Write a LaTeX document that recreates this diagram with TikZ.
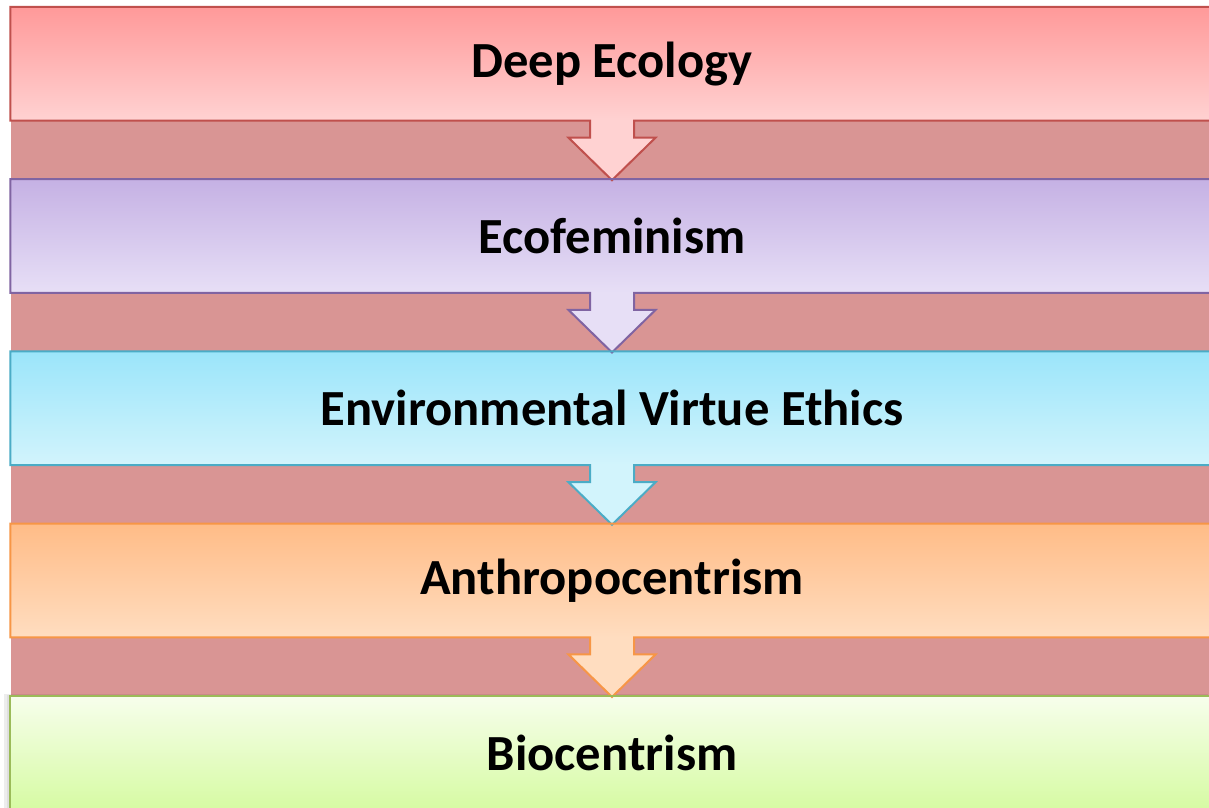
\documentclass[tikz,border=0pt]{standalone}
\usepackage{fontspec}
\setmainfont{Carlito}
\usetikzlibrary{calc}

\definecolor{band}{RGB}{217,149,148}
\definecolor{redtop}{RGB}{255,153,153}
\definecolor{redbot}{RGB}{255,210,210}
\definecolor{redline}{RGB}{192,80,77}
\definecolor{purtop}{RGB}{197,177,228}
\definecolor{purbot}{RGB}{231,223,246}
\definecolor{purline}{RGB}{128,100,162}
\definecolor{cyantop}{RGB}{155,229,250}
\definecolor{cyanbot}{RGB}{210,244,252}
\definecolor{cyanline}{RGB}{75,172,198}
\definecolor{orgtop}{RGB}{255,188,135}
\definecolor{orgbot}{RGB}{255,221,192}
\definecolor{orgline}{RGB}{247,150,70}
\definecolor{grntop}{RGB}{247,254,236}
\definecolor{grnbot}{RGB}{214,251,163}
\definecolor{grnline}{RGB}{155,187,89}

\pgfdeclarelayer{back}
\pgfdeclarelayer{shade}
\pgfdeclarelayer{arrowfill}
\pgfdeclarelayer{front}
\pgfsetlayers{back,shade,arrowfill,main,front}

\tikzset{
  stage/.style={rectangle, minimum width=1203pt, minimum height=113.5pt,
    inner sep=0pt, font=\fontsize{50.6}{60}\selectfont\bfseries, text=black},
  % box outline merged with the down arrow below it
  stageshape/.style={insert path={
    (#1.north west) -- (#1.north east) -- (#1.south east)
    -- ($(#1.south)+(22,0)$) -- ($(#1.south)+(22,17)$)
    -- ($(#1.south)+(43.5,17)$) -- ($(#1.south)+(0,59.5)$)
    -- ($(#1.south)+(-43.5,17)$) -- ($(#1.south)+(-22,17)$)
    -- ($(#1.south)+(-22,0)$) -- (#1.south west) -- cycle}},
  outline/.style={line width=2pt, line join=miter},
}

\newcommand{\stageshadow}[1]{%
  \begin{pgfonlayer}{shade}
    \fill[black, opacity=0.07, shift={(-6,-2)}, stageshape=#1];
    \fill[black, opacity=0.06, shift={(-3,-1)}, stageshape=#1];
    \fill[black, opacity=0.12, shift={(0,8)}, stageshape=#1];
    \fill[black, opacity=0.25, shift={(0,4.5)}, stageshape=#1];
  \end{pgfonlayer}}

\begin{document}
\begin{tikzpicture}[x=1pt, y=-1pt]
\useasboundingbox (0,0) rectangle (1209,807);
\clip (0,0) rectangle (1209,807);

\begin{pgfonlayer}{back}
  \fill[white] (0,0) rectangle (1209,807);
  \fill[band] (11,14) rectangle (1209,807);
\end{pgfonlayer}

% the five stages, top to bottom
\node[stage, top color=redtop, bottom color=redbot] (s1) at (612,63.75) {Deep Ecology};
\node[stage, top color=purtop, bottom color=purbot] (s2) at (612,236) {Ecofeminism};
\node[stage, top color=cyantop, bottom color=cyanbot] (s3) at (612,408.25) {Environmental Virtue Ethics};
\node[stage, top color=orgtop, bottom color=orgbot] (s4) at (612,580.5) {Anthropocentrism};
\node[stage, top color=grntop, bottom color=grnbot] (s5) at (612,752.75) {Biocentrism};

% shadows
\stageshadow{s1}
\stageshadow{s2}
\stageshadow{s3}
\stageshadow{s4}
\begin{pgfonlayer}{shade}
  \fill[black, opacity=0.07] ($(s5.north west)+(-6,-2)$) rectangle ($(s5.south east)+(-6,-2)$);
  \fill[black, opacity=0.06] ($(s5.north west)+(-3,-1)$) rectangle ($(s5.south east)+(-3,-1)$);
\end{pgfonlayer}

% arrow bodies
\begin{pgfonlayer}{arrowfill}
  \fill[redbot, stageshape=s1];
  \fill[purbot, stageshape=s2];
  \fill[cyanbot, stageshape=s3];
  \fill[orgbot, stageshape=s4];
\end{pgfonlayer}

% outlines
\begin{pgfonlayer}{front}
  \draw[outline, redline, stageshape=s1];
  \draw[outline, purline, stageshape=s2];
  \draw[outline, cyanline, stageshape=s3];
  \draw[outline, orgline, stageshape=s4];
  \draw[outline, grnline] (s5.north west) rectangle (s5.south east);
\end{pgfonlayer}
\end{tikzpicture}
\end{document}
